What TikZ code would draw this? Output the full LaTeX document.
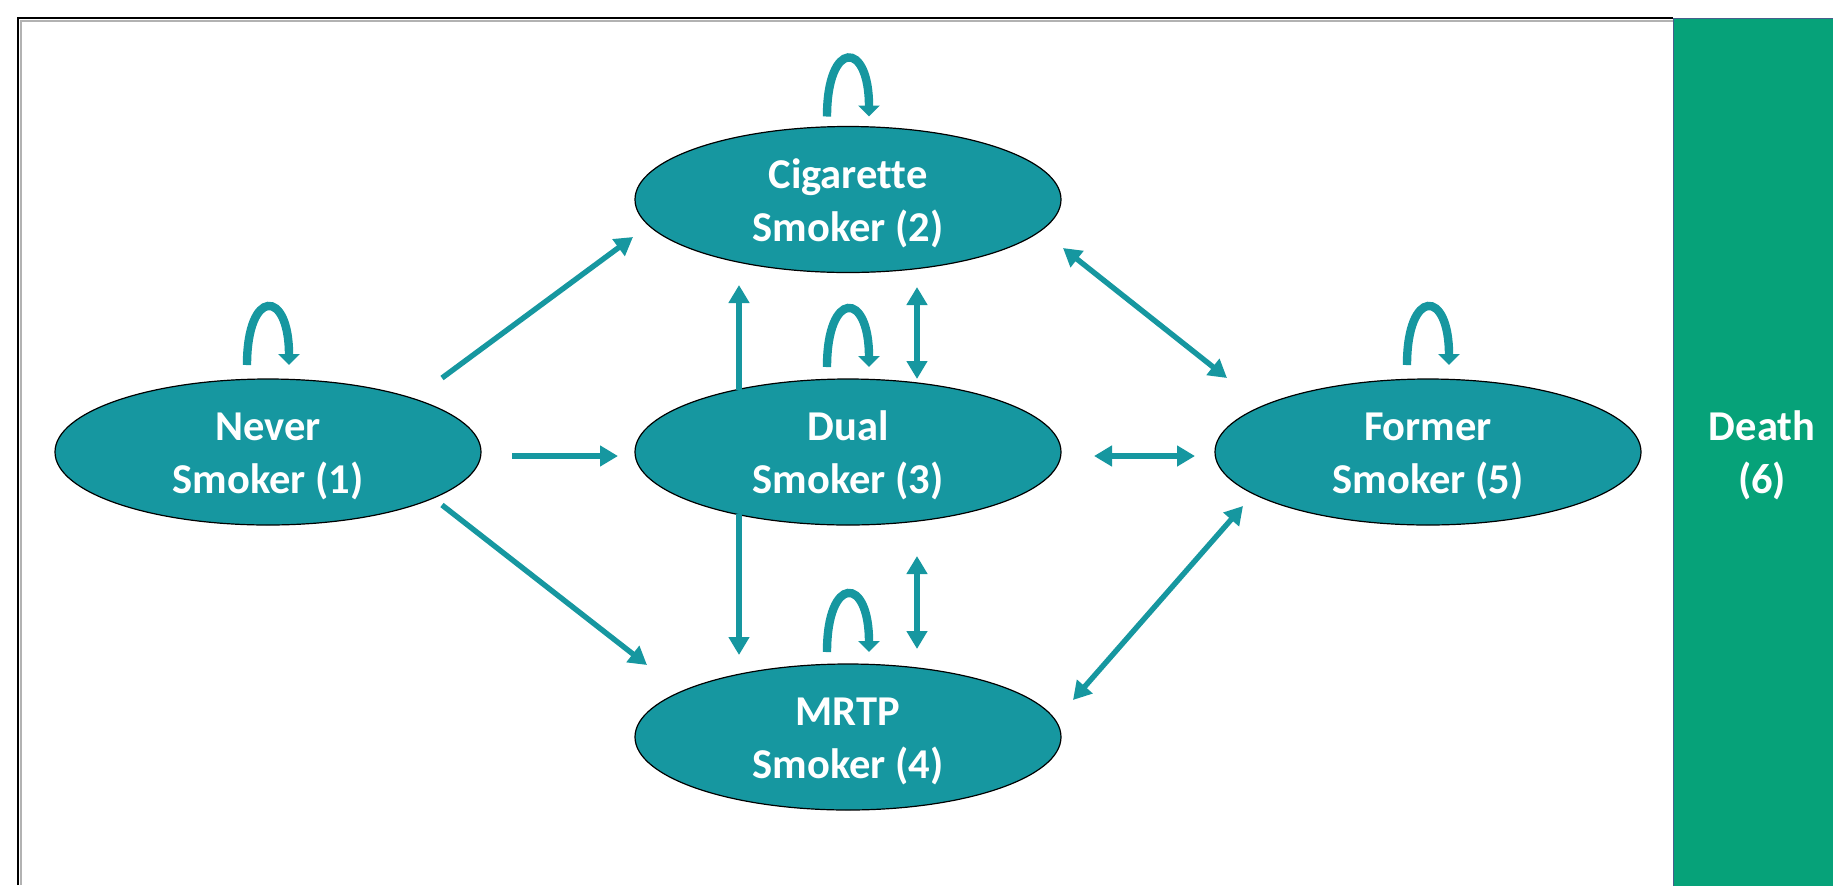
\documentclass[tikz,border=0pt]{standalone}
\usepackage{fontspec}
\setmainfont{Carlito}[Ligatures=NoCommon]
\usetikzlibrary{arrows.meta,calc,shapes.geometric}
\definecolor{teal1}{RGB}{22,151,160}
\definecolor{deathgreen}{RGB}{6,162,121}
\definecolor{edgeblue}{RGB}{70,95,140}
\newcommand{\topstrut}{\rule{0pt}{18.3pt}}
\tikzset{
  labeltext/.style={text=white, align=center,
    font=\bfseries\fontsize{21.25pt}{26.5pt}\selectfont},
  statenode/.style={ellipse, draw=black, line width=0.6pt, fill=teal1, labeltext,
    minimum width=213pt, minimum height=73pt, inner sep=0pt},
  conn/.style={draw=teal1, line width=2.7pt, -{Triangle[length=9pt,width=10pt]}},
  biconn/.style={draw=teal1, line width=2.7pt, {Triangle[length=9pt,width=10pt]}-{Triangle[length=9pt,width=10pt]}},
  selfloop/.style={draw=teal1, line width=4.2pt, -{Triangle[length=5.5pt,width=10.5pt]}},
}
\begin{document}
\begin{tikzpicture}[x=0.5pt,y=-0.5pt]
\useasboundingbox (0,0) rectangle (1833,885);
% frame
\draw[gray!60, line width=0.8pt] (21,885) -- (21,21) -- (1673,21);
\draw[black, line width=1.2pt] (18,885) -- (18,18) -- (1673,18);
% death column
\node[draw=edgeblue, line width=0.6pt, fill=deathgreen, minimum width=81pt, minimum height=440pt, inner sep=0pt, anchor=north west] (n6box) at (1673,18) {};
\node[labeltext] (n6) at (1762,452) {\topstrut Death\\(6)};
% states
\node[statenode] (n1) at (268,452) {\topstrut Never\\Smoker (1)};
\node[statenode] (n2) at (848,199.5) {\topstrut Cigarette\\Smoker (2)};
\node[statenode] (n3) at (848,452) {\topstrut Dual\\Smoker (3)};
\node[statenode] (n4) at (848,737) {\topstrut MRTP\\Smoker (4)};
\node[statenode] (n5) at (1428,452) {\topstrut Former\\Smoker (5)};
% connector end points
\coordinate (a12s) at (442,378);  \coordinate (a12e) at (633,237);
\coordinate (a13s) at (512,456);  \coordinate (a13e) at (618,456);
\coordinate (a14s) at (442,505);  \coordinate (a14e) at (647,665);
\coordinate (a32s) at (739,390);  \coordinate (a32e) at (739,285);
\coordinate (a34s) at (739,514);  \coordinate (a34e) at (739,655);
\coordinate (b23s) at (917,287);  \coordinate (b23e) at (917,379);
\coordinate (b34s) at (917,556);  \coordinate (b34e) at (917,649);
\coordinate (b25s) at (1063,248); \coordinate (b25e) at (1227,378);
\coordinate (b35s) at (1094,456); \coordinate (b35e) at (1195,456);
\coordinate (b45s) at (1073,700); \coordinate (b45e) at (1243,506);
% one-way transitions
\draw[conn] (a12s) -- (a12e);
\draw[conn] (a13s) -- (a13e);
\draw[conn] (a14s) -- (a14e);
\draw[conn] (a32s) -- (a32e);
\draw[conn] (a34s) -- (a34e);
% two-way transitions
\draw[biconn] (b23s) -- (b23e);
\draw[biconn] (b34s) -- (b34e);
\draw[biconn] (b25s) -- (b25e);
\draw[biconn] (b35s) -- (b35e);
\draw[biconn] (b45s) -- (b45e);
% self loops
\draw[selfloop] ($(n1)+(-21,-87)$) .. controls +(0,-77) and +(0,-77) .. ($(n1)+(21,-87)$);
\draw[selfloop] ($(n2)+(-21,-83)$) .. controls +(0,-77) and +(0,-77) .. ($(n2)+(21,-83)$);
\draw[selfloop] ($(n3)+(-21,-85)$) .. controls +(0,-77) and +(0,-77) .. ($(n3)+(21,-85)$);
\draw[selfloop] ($(n4)+(-21,-85)$) .. controls +(0,-77) and +(0,-77) .. ($(n4)+(21,-85)$);
\draw[selfloop] ($(n5)+(-21,-87)$) .. controls +(0,-77) and +(0,-77) .. ($(n5)+(21,-87)$);
\end{tikzpicture}
\end{document}
